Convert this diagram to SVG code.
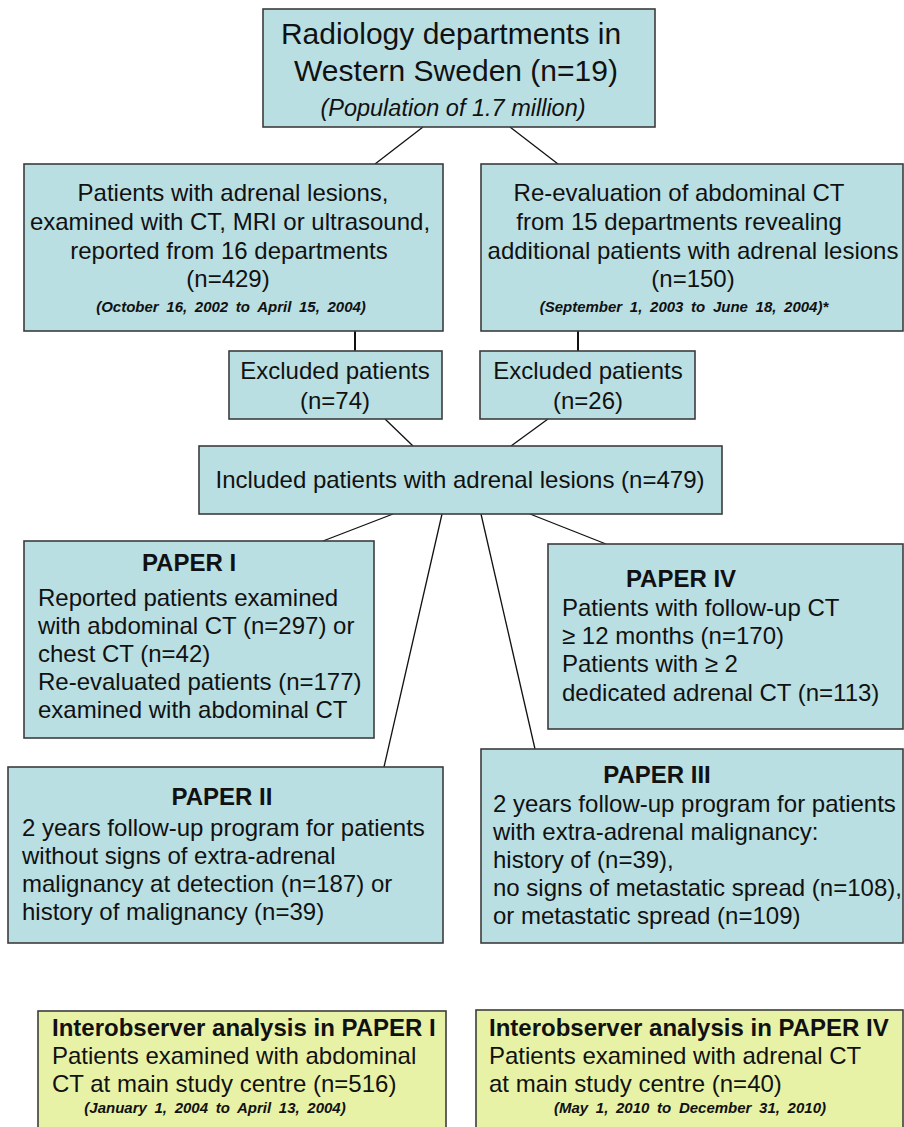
<svg xmlns="http://www.w3.org/2000/svg" width="904" height="1127" viewBox="0 0 904 1127">
<style>
.box{fill:#b9dfe3;stroke:#3c3c3c;stroke-width:1.6}
.ybox{fill:#e8f2a7;stroke:#3c3c3c;stroke-width:1.6}
text{font-family:"Liberation Sans",Arial,sans-serif;fill:#111}
.t30{font-size:30px}
.t24{font-size:24px}
.c{text-anchor:middle}
.b{font-weight:bold}
.it{font-style:italic}
.date{font-size:15px;font-weight:bold;font-style:italic;word-spacing:3.5px}
.conn line{stroke:#111;stroke-width:1.3}
.conn line.v{stroke-width:2}
</style>
<rect width="904" height="1127" fill="#fff"/>
<g class="conn">
<line x1="423" y1="127" x2="375" y2="164"/>
<line x1="510" y1="127" x2="558" y2="164"/>
<line class="v" x1="355" y1="331" x2="355" y2="351"/>
<line class="v" x1="578" y1="331" x2="578" y2="351"/>
<line x1="385" y1="419" x2="413" y2="446"/>
<line x1="548" y1="419" x2="511" y2="446"/>
<line x1="393" y1="514" x2="323" y2="541"/>
<line x1="442" y1="514" x2="384" y2="767"/>
<line x1="481" y1="514" x2="535" y2="749"/>
<line x1="530" y1="514" x2="606" y2="544"/>
</g>
<g id="top">
<rect class="box" x="263" y="9" width="392" height="118"/>
<text class="t30 c" x="451" y="44">Radiology departments in</text>
<text class="t30 c" x="456" y="81">Western Sweden (n=19)</text>
<text class="c it" x="453" y="116" font-size="23.5">(Population of 1.7 million)</text>
</g>
<g id="reported">
<rect class="box" x="24" y="164" width="419" height="167"/>
<text class="t24 c" x="233" y="201">Patients with adrenal lesions,</text>
<text class="t24 c" x="230" y="230">examined with CT, MRI or ultrasound,</text>
<text class="t24 c" x="229" y="259">reported from 16 departments</text>
<text class="t24 c" x="228" y="287">(n=429)</text>
<text class="date c" x="231" y="312">(October 16, 2002 to April 15, 2004)</text>
</g>
<g id="reeval">
<rect class="box" x="481" y="164" width="422" height="167"/>
<text class="t24 c" x="679" y="201">Re-evaluation of abdominal CT</text>
<text class="t24 c" x="679" y="230">from 15 departments revealing</text>
<text class="t24 c" x="693" y="259">additional patients with adrenal lesions</text>
<text class="t24 c" x="693" y="287">(n=150)</text>
<text class="date c" x="684" y="312">(September 1, 2003 to June 18, 2004)*</text>
</g>
<g id="excl1">
<rect class="box" x="229" y="351" width="213" height="68"/>
<text class="t24 c" x="335" y="379">Excluded patients</text>
<text class="t24 c" x="335" y="409">(n=74)</text>
</g>
<g id="excl2">
<rect class="box" x="480" y="351" width="215" height="68"/>
<text class="t24 c" x="588" y="379">Excluded patients</text>
<text class="t24 c" x="588" y="409">(n=26)</text>
</g>
<g id="included">
<rect class="box" x="199" y="446" width="523" height="68"/>
<text class="t24 c" x="460" y="488">Included patients with adrenal lesions (n=479)</text>
</g>
<g id="paper1">
<rect class="box" x="24" y="541" width="350" height="197"/>
<text class="t24 c b" x="189" y="571">PAPER I</text>
<text class="t24" x="38" y="606">Reported patients examined</text>
<text class="t24" x="38" y="634">with abdominal CT (n=297) or</text>
<text class="t24" x="38" y="662">chest CT (n=42)</text>
<text class="t24" x="38" y="690">Re-evaluated patients (n=177)</text>
<text class="t24" x="38" y="718">examined with abdominal CT</text>
</g>
<g id="paper4">
<rect class="box" x="548" y="544" width="355" height="185"/>
<text class="t24 c b" x="681" y="587">PAPER IV</text>
<text class="t24" x="562" y="616">Patients with follow-up CT</text>
<text class="t24" x="562" y="644">≥ 12 months (n=170)</text>
<text class="t24" x="562" y="672">Patients with ≥ 2</text>
<text class="t24" x="562" y="701">dedicated adrenal CT (n=113)</text>
</g>
<g id="paper2">
<rect class="box" x="8" y="767" width="435" height="176"/>
<text class="t24 c b" x="222" y="805">PAPER II</text>
<text class="t24" x="22" y="836">2 years follow-up program for patients</text>
<text class="t24" x="22" y="864">without signs of extra-adrenal</text>
<text class="t24" x="22" y="892">malignancy at detection (n=187) or</text>
<text class="t24" x="22" y="920">history of malignancy (n=39)</text>
</g>
<g id="paper3">
<rect class="box" x="481" y="749" width="422" height="194"/>
<text class="t24 c b" x="657" y="783">PAPER III</text>
<text class="t24" x="493" y="812">2 years follow-up program for patients</text>
<text class="t24" x="493" y="840">with extra-adrenal malignancy:</text>
<text class="t24" x="493" y="868">history of (n=39),</text>
<text class="t24" x="493" y="896">no signs of metastatic spread (n=108),</text>
<text class="t24" x="493" y="924">or metastatic spread (n=109)</text>
</g>
<g id="inter1">
<rect class="ybox" x="38" y="1011" width="408" height="130"/>
<text class="t24 b" x="52" y="1036">Interobserver analysis in PAPER I</text>
<text class="t24" x="52" y="1064">Patients examined with abdominal</text>
<text class="t24" x="52" y="1092">CT at main study centre (n=516)</text>
<text class="date c" x="215" y="1113">(January 1, 2004 to April 13, 2004)</text>
</g>
<g id="inter4">
<rect class="ybox" x="476" y="1010" width="427" height="131"/>
<text class="t24 b" x="489" y="1036">Interobserver analysis in PAPER IV</text>
<text class="t24" x="489" y="1064">Patients examined with adrenal CT</text>
<text class="t24" x="489" y="1092">at main study centre (n=40)</text>
<text class="date c" x="690" y="1113">(May 1, 2010 to December 31, 2010)</text>
</g>
</svg>
